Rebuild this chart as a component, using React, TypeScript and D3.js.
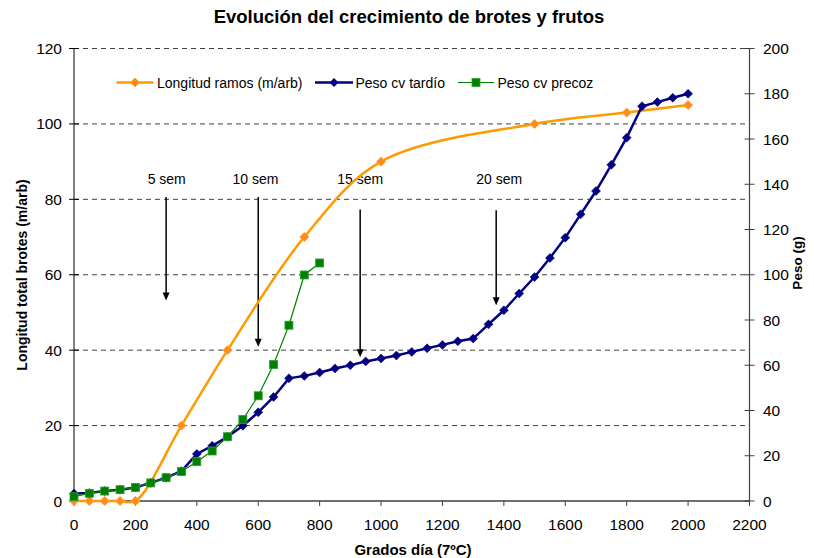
import React from "react";
import * as d3 from "d3";

// ---- data ----
const xTicks = [0, 200, 400, 600, 800, 1000, 1200, 1400, 1600, 1800, 2000, 2200];
const yLeftTicks = [0, 20, 40, 60, 80, 100, 120];
const yRightTicks = [0, 20, 40, 60, 80, 100, 120, 140, 160, 180, 200];

const ramosX = [0, 50, 100, 150, 200, 350, 500, 750, 1000, 1500, 1800, 2000];
const ramosY = [0, 0, 0, 0, 0, 20, 40, 70, 90, 100, 103, 105];

const tardioX = [
  0, 50, 100, 150, 200, 250, 300, 350, 400, 450, 500, 550, 600, 650, 700, 750, 800, 850, 900, 950,
  1000, 1050, 1100, 1150, 1200, 1250, 1300, 1350, 1400, 1450, 1500, 1550, 1600, 1650, 1700, 1750,
  1800, 1850, 1900, 1950, 2000,
];
const tardioY = [
  3.3, 3.5, 4.4, 5.0, 6.0, 8.0, 10.3, 13.2, 20.8, 24.4, 28.4, 33.3, 39.2, 46.0, 54.2, 55.3, 56.8,
  58.6, 60.0, 61.7, 63.0, 64.3, 65.9, 67.5, 69.0, 70.6, 71.8, 78.1, 84.3, 91.7, 99.0, 107.4, 116.4,
  126.7, 137.0, 148.6, 160.6, 174.5, 176.3, 178.2, 180.0,
];

const precozX = [0, 50, 100, 150, 200, 250, 300, 350, 400, 450, 500, 550, 600, 650, 700, 750, 800];
const precozY = [1.9, 3.4, 4.4, 5.0, 6.0, 8.0, 10.3, 13.0, 17.4, 22.1, 28.4, 36.0, 46.5, 60.3, 77.7, 99.9, 105.2];

const seriesNames = ["Longitud ramos (m/arb)", "Peso cv tardío", "Peso cv precoz"];
const seriesColors = ["#FF9900", "#000080", "#008000"];

const annoLabels = ["5 sem", "10 sem", "15 sem", "20 sem"];
const annoX = [300, 600, 932, 1375];
const annoLabelX = [302, 591, 932, 1385];
const annoTop = [80.6, 80.6, 77.3, 77.1];
const annoBottom = [53.2, 40.9, 38.1, 51.9];

const title = "Evolución del crecimiento de brotes y frutos";
const xLabel = "Grados día (7ºC)";
const yLeftLabel = "Longitud total brotes (m/arb)";
const yRightLabel = "Peso (g)";

// ---- layout ----
const W = 814;
const H = 558;
const FONT = "'Liberation Sans', Arial, sans-serif";

export default function App() {
  const x = d3.scaleLinear().domain([0, 2200]).range([74, 749.5]);
  const yL = d3.scaleLinear().domain([0, 120]).range([501, 48.5]);
  const yR = d3.scaleLinear().domain([0, 200]).range([501, 48.5]);

  const ramosPts: [number, number][] = ramosX.map((d, i) => [x(d), yL(ramosY[i])]);
  const tardioPts: [number, number][] = tardioX.map((d, i) => [x(d), yR(tardioY[i])]);
  const precozPts: [number, number][] = precozX.map((d, i) => [x(d), yR(precozY[i])]);

  const smooth = d3.line().curve(d3.curveCatmullRom.alpha(0.5));
  const straight = d3.line();

  const diamond = (cx: number, cy: number, r: number) =>
    `M${cx},${cy - r}L${cx + r},${cy}L${cx},${cy + r}L${cx - r},${cy}Z`;

  const x0 = x(0);
  const x1 = x(2200);
  const yb = yL(0);

  const legendY = 82.5;
  const legendItems = [
    { x1: 116.5, x2: 153.5, tx: 157 },
    { x1: 315, x2: 353, tx: 355.5 },
    { x1: 458, x2: 494, tx: 497.5 },
  ];

  return (
    <svg
      width={W}
      height={H}
      style={{ position: "absolute", left: 0, top: 0, background: "#fff" }}
      fontFamily={FONT}
    >
      <rect x={0} y={0} width={W} height={H} fill="#fff" />
      {/* title */}
      <text x={409} y={23} textAnchor="middle" fontSize={18.5} fontWeight="bold" fill="#000">
        {title}
      </text>

      {/* gridlines */}
      {yLeftTicks.filter((t) => t > 0).map((t) => (
        <line
          key={"g" + t}
          x1={x0}
          x2={x1}
          y1={yL(t)}
          y2={yL(t)}
          stroke="#404040"
          strokeWidth={1}
          strokeDasharray="5,4"
        />
      ))}

      {/* axes */}
      <line x1={x0} x2={x0} y1={yL(120)} y2={yb} stroke="#000" strokeWidth={1} />
      <line x1={x1} x2={x1} y1={yR(200)} y2={yb} stroke="#404040" strokeWidth={1.2} />
      <line x1={x0} x2={x1} y1={yb} y2={yb} stroke="#404040" strokeWidth={1.5} />

      {/* x ticks */}
      {xTicks.map((t) => (
        <g key={"x" + t}>
          <line x1={x(t)} x2={x(t)} y1={yb} y2={yb + 5} stroke="#404040" />
          <text x={x(t)} y={530} textAnchor="middle" fontSize={15.5} fill="#000">
            {t}
          </text>
        </g>
      ))}
      {/* left ticks */}
      {yLeftTicks.map((t) => (
        <g key={"l" + t}>
          <line x1={x0 - 5} x2={x0 + 5} y1={yL(t)} y2={yL(t)} stroke="#000" />
          <text x={62} y={yL(t) + 5.5} textAnchor="end" fontSize={15.5} fill="#000">
            {t}
          </text>
        </g>
      ))}
      {/* right ticks */}
      {yRightTicks.map((t) => (
        <g key={"r" + t}>
          <line x1={x1 - 5} x2={x1 + 5} y1={yR(t)} y2={yR(t)} stroke="#404040" />
          <text x={763} y={yR(t) + 5.5} textAnchor="start" fontSize={15.5} fill="#000">
            {t}
          </text>
        </g>
      ))}

      {/* axis labels */}
      <text x={413} y={555} textAnchor="middle" fontSize={15} fontWeight="bold" fill="#000">
        {xLabel}
      </text>
      <text
        transform={`translate(27,275) rotate(-90)`}
        textAnchor="middle"
        fontSize={14}
        fontWeight="bold"
        fill="#000"
      >
        {yLeftLabel}
      </text>
      <text
        transform={`translate(802,263) rotate(-90)`}
        textAnchor="middle"
        fontSize={13.5}
        fontWeight="bold"
        fill="#000"
      >
        {yRightLabel}
      </text>

      {/* annotations */}
      {annoLabels.map((lab, i) => {
        const ax = x(annoX[i]);
        const top = yL(annoTop[i]);
        const bot = yL(annoBottom[i]);
        return (
          <g key={"a" + i}>
            <text x={x(annoLabelX[i])} y={184} textAnchor="middle" fontSize={14} fill="#000">
              {lab}
            </text>
            <line x1={ax} x2={ax} y1={top} y2={bot - 7} stroke="#000" strokeWidth={1.5} />
            <path d={`M${ax - 3.5},${bot - 8}L${ax + 3.5},${bot - 8}L${ax},${bot}Z`} fill="#000" />
          </g>
        );
      })}

      {/* series: ramos */}
      <path d={smooth(ramosPts) || ""} fill="none" stroke={seriesColors[0]} strokeWidth={2.5} />
      {ramosPts.map((p, i) => (
        <path key={"om" + i} d={diamond(p[0], p[1], 4.5)} fill="#FF8C1A" stroke="#FFA030" strokeWidth={1} />
      ))}

      {/* series: tardio */}
      <path d={straight(tardioPts) || ""} fill="none" stroke={seriesColors[1]} strokeWidth={2.5} />
      {tardioPts.map((p, i) => (
        <path key={"bm" + i} d={diamond(p[0], p[1], 4.5)} fill="#000080" stroke="#000080" strokeWidth={0.5} />
      ))}

      {/* series: precoz */}
      <path d={straight(precozPts) || ""} fill="none" stroke={seriesColors[2]} strokeWidth={1.2} />
      {precozPts.map((p, i) => (
        <rect
          key={"gm" + i}
          x={p[0] - 4}
          y={p[1] - 4}
          width={8}
          height={8}
          fill="#008000"
          stroke="#30A030"
          strokeWidth={0.8}
        />
      ))}

      {/* legend */}
      {legendItems.map((it, i) => {
        const cx = (it.x1 + it.x2) / 2;
        return (
          <g key={"lg" + i}>
            <line
              x1={it.x1}
              x2={it.x2}
              y1={legendY}
              y2={legendY}
              stroke={seriesColors[i]}
              strokeWidth={i === 2 ? 1.2 : 2.5}
            />
            {i === 0 && <path d={diamond(cx, legendY, 4.5)} fill="#FF8C1A" stroke="#FFA030" />}
            {i === 1 && <path d={diamond(cx, legendY, 4.5)} fill="#000080" />}
            {i === 2 && (
              <rect x={cx - 4} y={legendY - 4} width={8} height={8} fill="#008000" stroke="#30A030" strokeWidth={0.8} />
            )}
            <text x={it.tx} y={legendY + 5} fontSize={14} fill="#000">
              {seriesNames[i]}
            </text>
          </g>
        );
      })}
    </svg>
  );
}
